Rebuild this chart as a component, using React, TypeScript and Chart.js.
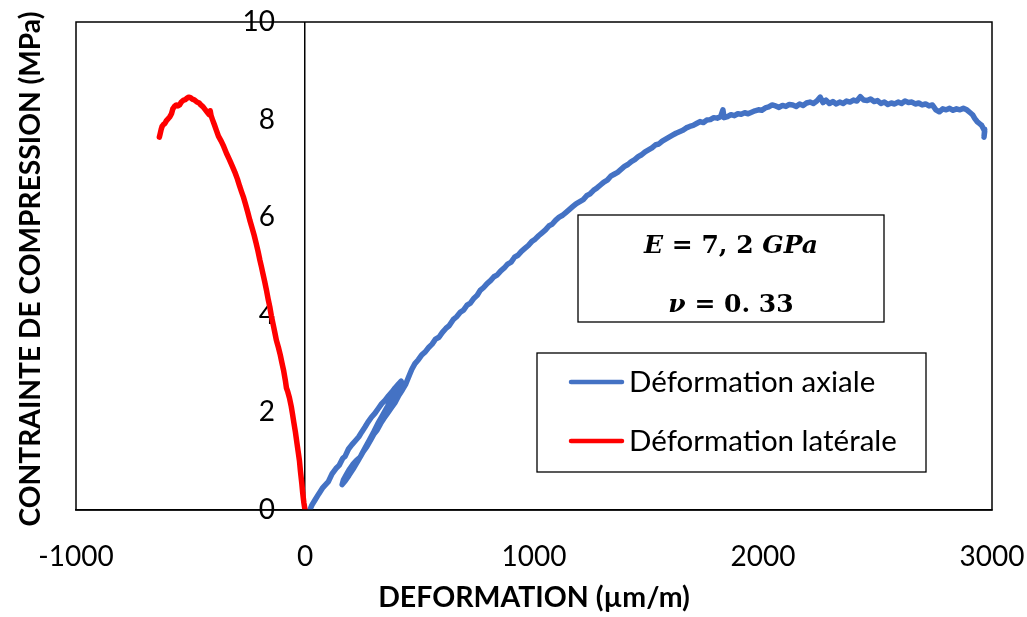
import React, { useEffect, useRef } from "react";
import { Chart, registerables } from "chart.js";

Chart.register(...registerables);

// ---- data ----
const axialX: number[] = [
  21, 30, 43, 60, 78, 102, 118, 135, 150, 165, 175, 190, 205, 220, 235, 248, 262, 275, 290, 305, 320, 335, 350, 365, 380, 393, 408, 420,
  412, 398, 380, 360, 340, 318, 300, 282, 262, 245, 228, 210, 192, 176, 162,
  168, 180, 195, 210, 225, 240, 255, 270, 285, 300, 315, 330, 345, 360, 375, 393, 410, 425, 440, 452, 466, 480,
  495, 510, 525, 540, 555, 570, 585, 600, 615, 630, 647, 662, 678, 693, 708, 722, 738, 752, 765, 780, 795, 810, 825, 840, 855, 870, 885, 900, 915, 930, 945, 960, 975, 990,
  1005, 1020, 1035, 1050, 1065, 1080, 1095, 1110, 1125, 1140, 1155, 1170, 1185, 1200, 1215, 1230, 1245, 1260, 1275, 1290, 1305, 1320, 1335, 1350, 1365, 1380, 1395,
  1410, 1425, 1440, 1455, 1470, 1485, 1500, 1515, 1530, 1545, 1560, 1575, 1590, 1605, 1620, 1635, 1650, 1665, 1680, 1695, 1710, 1725, 1740, 1755, 1770, 1785, 1800,
  1815, 1825, 1830, 1845, 1860, 1875, 1890, 1905, 1920, 1935, 1950, 1965, 1980, 1995, 2010, 2025, 2040, 2055, 2070, 2085, 2100, 2115, 2130, 2145, 2160, 2175, 2190,
  2205, 2220, 2235, 2250, 2262, 2275, 2290, 2305, 2320, 2335, 2350, 2365, 2380, 2395, 2410, 2425, 2440, 2455, 2470, 2485, 2500, 2515, 2530, 2545, 2560, 2575, 2590,
  2605, 2620, 2635, 2650, 2665, 2680, 2695, 2710, 2725, 2740, 2755, 2770, 2785, 2800, 2815, 2830, 2845, 2860, 2875, 2890, 2905, 2915, 2925, 2935, 2945, 2955, 2962,
  2968, 2965, 2968,
];
const axialY: number[] = [
  0, 0.1, 0.2, 0.33, 0.46, 0.58, 0.74, 0.85, 0.92, 1.06, 1.1, 1.25, 1.34, 1.42, 1.5, 1.6, 1.7, 1.8, 1.9, 1.98, 2.08, 2.18, 2.25, 2.34, 2.42, 2.5, 2.58, 2.64,
  2.56, 2.44, 2.3, 2.12, 1.95, 1.77, 1.6, 1.44, 1.27, 1.12, 0.98, 0.84, 0.71, 0.6, 0.52,
  0.62, 0.72, 0.84, 0.94, 1.02, 1.08, 1.2, 1.3, 1.42, 1.55, 1.64, 1.77, 1.88, 1.98, 2.08, 2.2, 2.35, 2.46, 2.58, 2.72, 2.88, 3.0,
  3.08, 3.18, 3.24, 3.33, 3.4, 3.5, 3.54, 3.64, 3.72, 3.78, 3.9, 3.96, 4.05, 4.1, 4.2, 4.24, 4.34, 4.4, 4.5, 4.56, 4.64, 4.7, 4.78, 4.82, 4.9, 4.96, 5.04, 5.08, 5.18, 5.22, 5.3, 5.36, 5.42, 5.5,
  5.55, 5.62, 5.68, 5.74, 5.82, 5.86, 5.94, 6.0, 6.04, 6.1, 6.16, 6.22, 6.28, 6.32, 6.36, 6.44, 6.48, 6.55, 6.6, 6.66, 6.72, 6.76, 6.84, 6.88, 6.92, 6.98, 7.04,
  7.08, 7.14, 7.18, 7.24, 7.28, 7.34, 7.38, 7.42, 7.48, 7.5, 7.56, 7.6, 7.64, 7.68, 7.72, 7.75, 7.78, 7.83, 7.86, 7.88, 7.92, 7.96, 7.94, 7.99, 8.0, 8.04, 8.03,
  8.06, 8.2, 8.04, 8.06, 8.1, 8.08, 8.12, 8.11, 8.14, 8.12, 8.15, 8.18, 8.2, 8.19, 8.24, 8.26, 8.3, 8.28, 8.25, 8.29, 8.27, 8.31, 8.3, 8.27, 8.32, 8.29, 8.34,
  8.36, 8.33, 8.38, 8.46, 8.35, 8.4, 8.33, 8.37, 8.32, 8.36, 8.33, 8.38, 8.36, 8.4, 8.38, 8.47, 8.4, 8.39, 8.42, 8.37, 8.39, 8.33, 8.36, 8.31, 8.34, 8.32, 8.36,
  8.33, 8.38, 8.35, 8.36, 8.32, 8.34, 8.3, 8.32, 8.28, 8.3, 8.2, 8.16, 8.22, 8.2, 8.23, 8.19, 8.22, 8.2, 8.23, 8.2, 8.14, 8.1, 8.02, 7.96, 7.92, 7.88, 7.82,
  7.76, 7.64, 7.8,
];

const lateralX: number[] = [
  0, -5, -10, -14, -20, -24, -30, -37, -42, -49, -55, -60, -68, -75, -81, -86, -93, -100, -108, -116, -125, -131, -139, -147, -154, -160, -168, -176, -184, -190,
  -197, -205, -214, -222, -231, -241, -250, -260, -268, -277, -285, -295, -306, -318, -330, -343, -355, -366, -378, -387, -396, -404, -410, -414, -418, -425,
  -435, -445, -455, -462, -472, -482, -492, -500, -508, -515, -522, -530, -540, -548, -555, -562, -570, -577, -583, -590, -597, -605, -612, -618, -624, -628,
  -632, -636,
];
const lateralY: number[] = [
  0, 0.15, 0.35, 0.55, 0.8, 1.0, 1.2, 1.43, 1.6, 1.8, 1.98, 2.12, 2.3, 2.42, 2.5, 2.66, 2.85, 3.0, 3.18, 3.33, 3.48, 3.62, 3.8, 3.98, 4.17, 4.3, 4.5, 4.68, 4.85, 4.98,
  5.12, 5.3, 5.48, 5.63, 5.78, 5.94, 6.1, 6.27, 6.4, 6.52, 6.63, 6.78, 6.92, 7.05, 7.18, 7.31, 7.45, 7.56, 7.66, 7.78, 7.9, 8.0, 8.08, 8.18, 8.1, 8.14,
  8.2, 8.26, 8.3, 8.34, 8.36, 8.4, 8.42, 8.45, 8.46, 8.44, 8.41, 8.4, 8.36, 8.3, 8.28, 8.3, 8.27, 8.22, 8.12, 8.06, 8.02, 7.98, 7.92, 7.9, 7.86, 7.8,
  7.72, 7.64,
];

const xTicks: number[] = [-1000, 0, 1000, 2000, 3000];
const yTicks: number[] = [0, 2, 4, 6, 8, 10];

const seriesNames: string[] = ["Déformation axiale", "Déformation latérale"];
const seriesColors: string[] = ["#4472C4", "#FF0000"];
const xTitle = "DEFORMATION (µm/m)";
const yTitle = "CONTRAINTE DE COMPRESSION (MPa)";
const mathLine1 = [
  { t: "E", it: true },
  { t: " = ", it: false },
  { t: "7, 2 ", it: false },
  { t: "GPa", it: true },
];
const mathLine2 = [
  { t: "ν", it: true },
  { t: " = ", it: false },
  { t: "0. 33", it: false },
];

const FONT = "Lato";
// the y axis crosses x = 0 (drawn as the x grid line at 0); its labels sit a little to the left
const Y_LABEL_ANCHOR = -131;

function toPoints(xs: number[], ys: number[]) {
  return xs.map((x, i) => ({ x, y: ys[i] }));
}

const overlayPlugin = {
  id: "overlay",
  afterDraw(chart: any) {
    const ctx: CanvasRenderingContext2D = chart.ctx;
    const a = chart.chartArea;
    ctx.save();
    // plot frame
    ctx.strokeStyle = "#000";
    ctx.lineWidth = 1.5;
    ctx.strokeRect(a.left, a.top, a.right - a.left, a.bottom - a.top);

    // titles
    ctx.fillStyle = "#000";
    ctx.font = `bold 28.5px ${FONT}`;
    ctx.textAlign = "center";
    ctx.textBaseline = "alphabetic";
    ctx.fillText(xTitle, 534, 607);
    ctx.save();
    ctx.translate(40, 269);
    ctx.rotate(-Math.PI / 2);
    ctx.font = `bold 28.2px ${FONT}`;
    ctx.fillText(yTitle, 0, 0);
    ctx.restore();

    // math box
    ctx.fillStyle = "#fff";
    ctx.fillRect(578, 215, 306, 107);
    ctx.strokeStyle = "#000";
    ctx.lineWidth = 1.3;
    ctx.strokeRect(578, 215, 306, 107);
    const drawMath = (segs: { t: string; it: boolean }[], cx: number, base: number) => {
      const size = 25;
      const fontFor = (it: boolean) => `${it ? "italic " : ""}bold ${size}px "DejaVu Serif"`;
      let total = 0;
      for (const s of segs) {
        ctx.font = fontFor(s.it);
        total += ctx.measureText(s.t).width;
      }
      let x = cx - total / 2;
      ctx.fillStyle = "#000";
      ctx.textAlign = "left";
      for (const s of segs) {
        ctx.font = fontFor(s.it);
        ctx.fillText(s.t, x, base);
        x += ctx.measureText(s.t).width;
      }
    };
    drawMath(mathLine1, 731, 253);
    drawMath(mathLine2, 731, 312);

    // legend
    ctx.fillStyle = "#fff";
    ctx.fillRect(537, 353, 389, 119);
    ctx.strokeStyle = "#000";
    ctx.lineWidth = 1.3;
    ctx.strokeRect(537, 353, 389, 119);
    const rows = [382, 441];
    seriesNames.forEach((name, i) => {
      ctx.strokeStyle = seriesColors[i];
      ctx.lineWidth = 4.5;
      ctx.lineCap = "round";
      ctx.beginPath();
      ctx.moveTo(571, rows[i]);
      ctx.lineTo(622, rows[i]);
      ctx.stroke();
      ctx.fillStyle = "#000";
      ctx.font = `29.5px ${FONT}`;
      ctx.textAlign = "left";
      ctx.fillText(name, 629, rows[i] + 10);
    });
    ctx.restore();
  },
};

export default function App() {
  const ref = useRef<HTMLCanvasElement | null>(null);
  useEffect(() => {
    if (!ref.current) return;
    const chart = new Chart(ref.current, {
      type: "scatter",
      data: {
        datasets: [
          {
            label: seriesNames[0],
            data: toPoints(axialX, axialY),
            showLine: true,
            borderColor: seriesColors[0],
            backgroundColor: seriesColors[0],
            borderWidth: 5.5,
            pointRadius: 0,
            borderJoinStyle: "round",
            borderCapStyle: "round",
            order: 1,
          },
          {
            label: seriesNames[1],
            data: toPoints(lateralX, lateralY),
            showLine: true,
            borderColor: seriesColors[1],
            backgroundColor: seriesColors[1],
            borderWidth: 5.5,
            pointRadius: 0,
            borderJoinStyle: "round",
            borderCapStyle: "round",
            order: 0,
          },
        ],
      },
      options: {
        responsive: false,
        animation: false,
        devicePixelRatio: 1,
        layout: { padding: { left: 76, right: 35, top: 22, bottom: 0 } },
        plugins: { legend: { display: false }, tooltip: { enabled: false } },
        scales: {
          x: {
            type: "linear",
            min: xTicks[0],
            max: xTicks[xTicks.length - 1],
            afterBuildTicks: (s: any) => {
              s.ticks = xTicks.map((v) => ({ value: v }));
            },
            afterFit: (s: any) => {
              s.height = 107;
              s.paddingLeft = 0;
              s.paddingRight = 0;
            },
            grid: {
              display: true,
              drawTicks: false,
              drawOnChartArea: true,
              lineWidth: 1.5,
              color: (c: any) => (c.tick && c.tick.value === 0 ? "#000" : "rgba(0,0,0,0)"),
            },
            border: { display: true, color: "#000", width: 1.5 },
            ticks: {
              color: "#000",
              font: { family: FONT, size: 28 },
              padding: 30,
              maxRotation: 0,
              callback: (v: any) => String(v),
            },
          },
          y: {
            type: "linear",
            position: { x: Y_LABEL_ANCHOR },
            min: yTicks[0],
            max: yTicks[yTicks.length - 1],
            afterBuildTicks: (s: any) => {
              s.ticks = yTicks.map((v) => ({ value: v }));
            },
            afterFit: (s: any) => {
              s.paddingTop = 0;
              s.paddingBottom = 0;
            },
            grid: { display: false, drawTicks: false },
            border: { display: false },
            ticks: {
              color: "#000",
              font: { family: FONT, size: 28 },
              padding: 0,
              callback: (v: any) => String(v),
            },
          },
        },
      },
      plugins: [overlayPlugin],
    } as any);
    return () => chart.destroy();
  }, []);
  return (
    <div style={{ position: "absolute", left: 0, top: 0, width: 1027, height: 617, background: "#fff" }}>
      <canvas ref={ref} width={1027} height={617} />
    </div>
  );
}
